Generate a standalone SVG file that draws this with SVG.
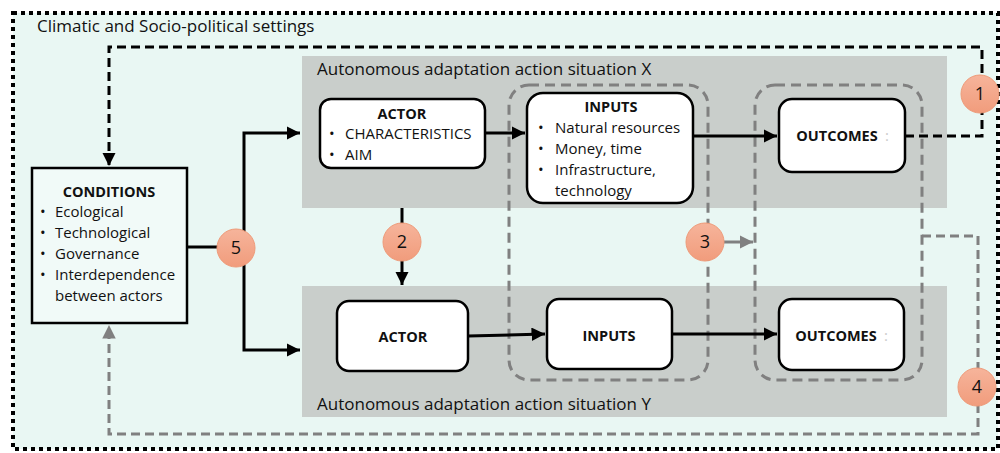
<svg xmlns="http://www.w3.org/2000/svg" width="1000" height="453" viewBox="0 0 1000 453">
<defs>
<style>
.t{font-family:"Open Sans","Liberation Sans",sans-serif;fill:#111}
.reg{font-size:15px}
.b{font-size:14.5px;font-weight:bold}
.lbl{font-size:17px}
.box{fill:#fff;stroke:#000;stroke-width:2.5}
.panel{fill:#C9CECB}
.grp{fill:none;stroke:#808080;stroke-width:3;stroke-dasharray:10 6}
.blk{fill:none;stroke:#000;stroke-width:3}
.blkd{fill:none;stroke:#000;stroke-width:3;stroke-dasharray:9 5}
.gryd{fill:none;stroke:#808080;stroke-width:3;stroke-dasharray:9 5}
.gry{fill:none;stroke:#808080;stroke-width:3}
.circ{fill:url(#cg);stroke:#EE9A78;stroke-width:1}
.num{font-family:"Open Sans","Liberation Sans",sans-serif;font-size:18px;fill:#111;text-anchor:middle}
</style>
<linearGradient id="cg" x1="0" y1="0" x2="0" y2="1">
<stop offset="0" stop-color="#F6B49B"/>
<stop offset="1" stop-color="#F19C7C"/>
</linearGradient>
<marker id="ab" viewBox="0 0 10 10" refX="10" refY="5" markerWidth="4.5" markerHeight="4.5" orient="auto" markerUnits="strokeWidth">
<path d="M0,0 L10,5 L0,10 z" fill="#000"/>
</marker>
<marker id="ag" viewBox="0 0 10 10" refX="10" refY="5" markerWidth="4.5" markerHeight="4.5" orient="auto" markerUnits="strokeWidth">
<path d="M0,0 L10,5 L0,10 z" fill="#808080"/>
</marker>
</defs>

<g id="settings">
<rect x="13" y="13" width="985" height="436" fill="#E9F7F3" stroke="#000" stroke-width="4" stroke-dasharray="4 4"/>
<text class="t lbl" x="37" y="32">Climatic and Socio-political settings</text>
</g>

<g id="situationX">
<rect class="panel" x="302" y="56" width="645" height="152"/>
<text class="t lbl" x="317" y="75">Autonomous adaptation action situation X</text>
</g>
<g id="situationY">
<rect class="panel" x="302" y="286" width="645" height="131"/>
<text class="t lbl" x="317" y="410">Autonomous adaptation action situation Y</text>
</g>

<g id="groupInputs"><rect class="grp" x="509" y="85" width="199" height="295" rx="20"/></g>
<g id="groupOutcomes"><rect class="grp" x="755" y="85" width="167" height="295" rx="20"/></g>

<g id="connectors">
<path class="blk" d="M187,247 H244"/>
<path class="blk" d="M244,248 V133 H300" marker-end="url(#ab)"/>
<path class="blk" d="M244,248 V350 H300" marker-end="url(#ab)"/>
<path class="blk" d="M485,133 H525" marker-end="url(#ab)"/>
<path class="blk" d="M693,136 H777" marker-end="url(#ab)"/>
<path class="blk" d="M468,336 L545,334" marker-end="url(#ab)"/>
<path class="blk" d="M672,334 H777" marker-end="url(#ab)"/>
<path class="blk" d="M402,208 V285" marker-end="url(#ab)"/>
<path class="blkd" d="M905,136 H982 V47 H109 V166" marker-end="url(#ab)"/>
<path class="gry" d="M724,242 H753" marker-end="url(#ag)"/>
<path class="gryd" d="M922,236 H978 V434 H109 V325" marker-end="url(#ag)"/>
</g>

<g id="conditions">
<rect x="32" y="168" width="155" height="155" fill="#F1FAF8" stroke="#000" stroke-width="2.5"/>
<text class="t b" x="109" y="197" text-anchor="middle">CONDITIONS</text>
<text class="t reg" x="40" y="217">•</text><text class="t reg" x="55" y="217">Ecological</text>
<text class="t reg" x="40" y="238">•</text><text class="t reg" x="55" y="238">Technological</text>
<text class="t reg" x="40" y="259">•</text><text class="t reg" x="55" y="259">Governance</text>
<text class="t reg" x="40" y="280">•</text><text class="t reg" x="55" y="280">Interdependence</text>
<text class="t reg" x="55" y="301">between actors</text>
</g>

<g id="actorX">
<rect class="box" x="320" y="99" width="165" height="69" rx="11"/>
<text class="t b" x="402" y="119" text-anchor="middle">ACTOR</text>
<text class="t reg" x="329" y="139">•</text><text class="t reg" x="345" y="139">CHARACTERISTICS</text>
<text class="t reg" x="329" y="160">•</text><text class="t reg" x="345" y="160">AIM</text>
</g>

<g id="inputsX">
<rect class="box" x="527" y="93" width="166" height="110" rx="16"/>
<text class="t b" x="611" y="112" text-anchor="middle">INPUTS</text>
<text class="t reg" x="538" y="133">•</text><text class="t reg" x="555" y="133">Natural resources</text>
<text class="t reg" x="538" y="154">•</text><text class="t reg" x="555" y="154">Money, time</text>
<text class="t reg" x="538" y="175">•</text><text class="t reg" x="555" y="175">Infrastructure,</text>
<text class="t reg" x="555" y="196">technology</text>
</g>

<g id="outcomesX">
<rect class="box" x="779" y="99" width="126" height="73" rx="13"/>
<text class="t b" x="837" y="141" text-anchor="middle">OUTCOMES</text>
<text class="t reg" x="885" y="141" style="fill:#ccc">:</text>
</g>

<g id="actorY">
<rect class="box" x="337" y="301" width="131" height="70" rx="12"/>
<text class="t b" x="403" y="342" text-anchor="middle">ACTOR</text>
</g>

<g id="inputsY">
<rect class="box" x="547" y="299" width="125" height="70" rx="12"/>
<text class="t b" x="609" y="341" text-anchor="middle">INPUTS</text>
</g>

<g id="outcomesY">
<rect class="box" x="779" y="299" width="125" height="71" rx="13"/>
<text class="t b" x="836" y="341" text-anchor="middle">OUTCOMES</text>
<text class="t reg" x="884" y="341" style="fill:#ccc">:</text>
</g>

<g id="c1"><circle class="circ" cx="980" cy="94" r="19"/><text class="num" x="980" y="100">1</text></g>
<g id="c2"><circle class="circ" cx="402" cy="242" r="19"/><text class="num" x="402" y="248">2</text></g>
<g id="c3"><circle class="circ" cx="705" cy="242" r="19"/><text class="num" x="705" y="248">3</text></g>
<g id="c4"><circle class="circ" cx="977" cy="387" r="19"/><text class="num" x="977" y="393">4</text></g>
<g id="c5"><circle class="circ" cx="236" cy="248" r="19"/><text class="num" x="236" y="254">5</text></g>
</svg>
